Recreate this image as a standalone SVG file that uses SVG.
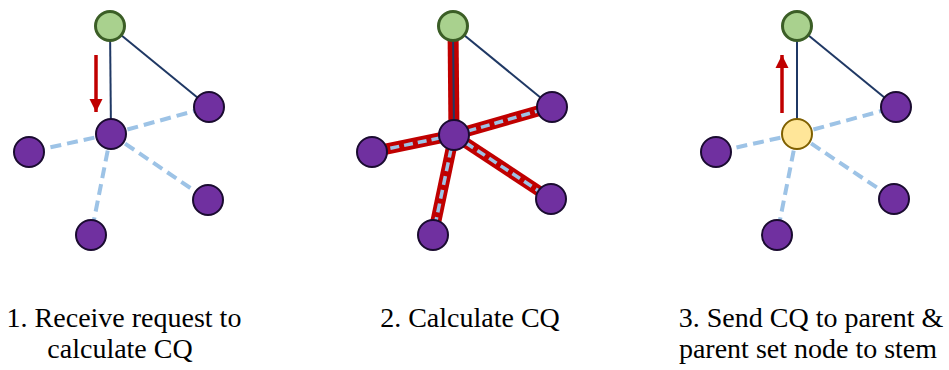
<svg xmlns="http://www.w3.org/2000/svg" width="949" height="370" viewBox="0 0 949 370">
<style>
.tree{stroke:#1f3864;stroke-width:2;fill:none}
.mesh{stroke:#9dc3e6;stroke-width:4;stroke-dasharray:11 6;fill:none}
.hl{stroke:#c00000;stroke-width:11;fill:none}
.hlmesh{stroke:#9dc3e6;stroke-width:3.5;stroke-dasharray:9 5;fill:none}
.arrow{stroke:#c00000;stroke-width:3.5;fill:none}
.root{fill:#a9d18e;stroke:#3b5e26;stroke-width:3}
.node{fill:#7030a0;stroke:#1a0b30;stroke-width:2}
.stem{fill:#ffe699;stroke:#7f6000;stroke-width:2}
.lbl{font-size:28px;fill:#000;text-anchor:middle}
</style>
<defs>
<marker id="ah" viewBox="0 0 10 10" refX="10" refY="5" markerWidth="3.8" markerHeight="3.8" orient="auto" markerUnits="strokeWidth">
<path d="M0,0 L10,5 L0,10 Z" fill="#c00000"/>
</marker>
</defs>
<g id="connectors">
<line class="tree" x1="110" y1="26" x2="111" y2="134"/>
<line class="tree" x1="110" y1="26" x2="209" y2="107"/>
<line class="mesh" x1="111" y1="134" x2="209" y2="107"/>
<line class="mesh" x1="111" y1="134" x2="29" y2="152"/>
<line class="mesh" x1="111" y1="134" x2="208" y2="200"/>
<line class="mesh" x1="111" y1="134" x2="91" y2="235"/>
<line class="arrow" x1="96" y1="55" x2="96" y2="112" marker-end="url(#ah)"/>
<line class="tree" x1="453" y1="26" x2="552" y2="107"/>
<line class="hl" x1="453" y1="26" x2="454" y2="135"/>
<line class="tree" x1="453" y1="26" x2="454" y2="135"/>
<line class="hl" x1="454" y1="135" x2="552" y2="107"/>
<line class="hl" x1="454" y1="135" x2="372" y2="152"/>
<line class="hl" x1="454" y1="135" x2="551" y2="199"/>
<line class="hl" x1="454" y1="135" x2="433" y2="235"/>
<line class="hlmesh" x1="454" y1="135" x2="552" y2="107"/>
<line class="hlmesh" x1="454" y1="135" x2="372" y2="152"/>
<line class="hlmesh" x1="454" y1="135" x2="551" y2="199"/>
<line class="hlmesh" x1="454" y1="135" x2="433" y2="235"/>
<line class="tree" x1="797" y1="26" x2="797" y2="134"/>
<line class="tree" x1="797" y1="26" x2="896" y2="107"/>
<line class="mesh" x1="797" y1="134" x2="896" y2="107"/>
<line class="mesh" x1="797" y1="134" x2="716" y2="152"/>
<line class="mesh" x1="797" y1="134" x2="894" y2="199"/>
<line class="mesh" x1="797" y1="134" x2="777" y2="235"/>
<line class="arrow" x1="782" y1="113" x2="782" y2="55" marker-end="url(#ah)"/>
</g>
<g id="p1-root"><circle class="root" cx="110" cy="26" r="14.5"/></g>
<g id="p1-center"><circle class="node" cx="111" cy="134" r="15"/></g>
<g id="p1-ur"><circle class="node" cx="209" cy="107" r="15"/></g>
<g id="p1-left"><circle class="node" cx="29" cy="152" r="15"/></g>
<g id="p1-lr"><circle class="node" cx="208" cy="200" r="15"/></g>
<g id="p1-bottom"><circle class="node" cx="91" cy="235" r="15"/></g>

<g id="p2-root"><circle class="root" cx="453" cy="26" r="14.5"/></g>
<g id="p2-center"><circle class="node" cx="454" cy="135" r="15"/></g>
<g id="p2-ur"><circle class="node" cx="552" cy="107" r="15"/></g>
<g id="p2-left"><circle class="node" cx="372" cy="152" r="15"/></g>
<g id="p2-lr"><circle class="node" cx="551" cy="199" r="15"/></g>
<g id="p2-bottom"><circle class="node" cx="433" cy="235" r="15"/></g>

<g id="p3-root"><circle class="root" cx="797" cy="26" r="14.5"/></g>
<g id="p3-center"><circle class="stem" cx="797" cy="134" r="15"/></g>
<g id="p3-ur"><circle class="node" cx="896" cy="107" r="15"/></g>
<g id="p3-left"><circle class="node" cx="716" cy="152" r="15"/></g>
<g id="p3-lr"><circle class="node" cx="894" cy="199" r="15"/></g>
<g id="p3-bottom"><circle class="node" cx="777" cy="235" r="15"/></g>

<g id="labels" font-family="'Liberation Serif', 'Times New Roman', serif">
<text class="lbl" x="124" y="327">1. Receive request to</text>
<text class="lbl" x="120" y="358">calculate CQ</text>
<text class="lbl" x="470" y="327">2. Calculate CQ</text>
<text class="lbl" x="811" y="327">3. Send CQ to parent &amp;</text>
<text class="lbl" x="808" y="358">parent set node to stem</text>
</g>
</svg>
